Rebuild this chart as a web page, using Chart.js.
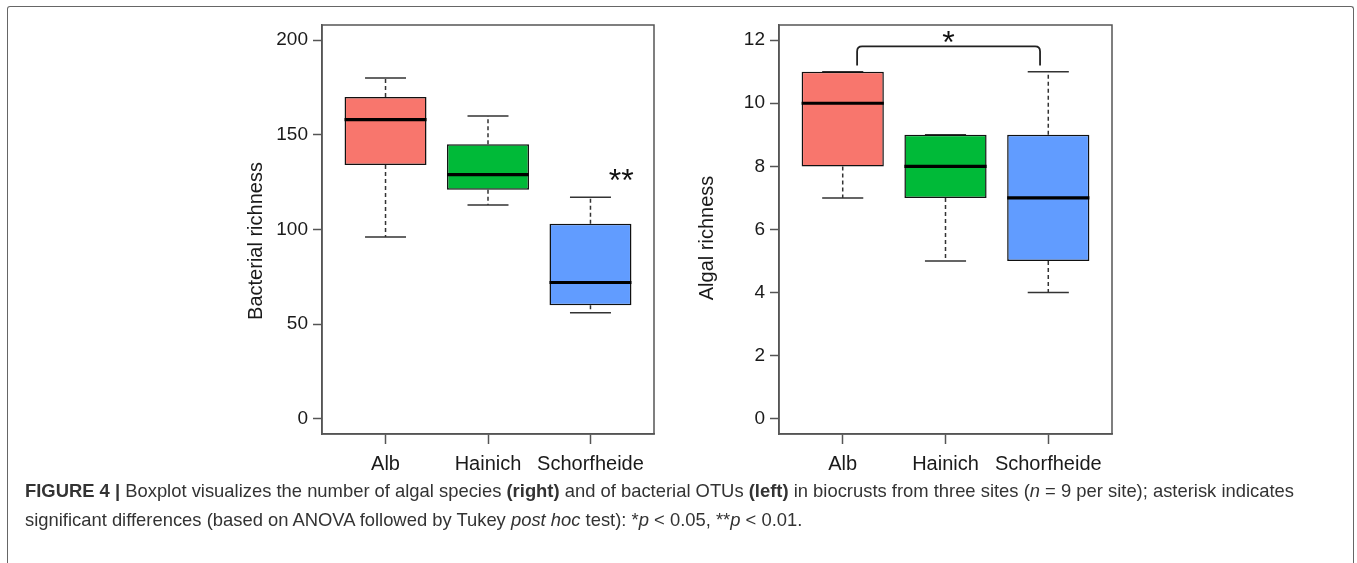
<!DOCTYPE html>
<html>
<head>
<meta charset="utf-8">
<title>Figure 4</title>
<script src="https://cdn.jsdelivr.net/npm/chart.js@4"></script>
<style>
  body { margin: 0; background: #fff; width: 1357px; height: 563px; overflow: hidden; position: relative; font-family: "Liberation Sans", Arial, sans-serif; }
  .frame { position: absolute; left: 7px; top: 5.5px; width: 1345px; height: 600px; border: 1.5px solid #666; border-bottom: none; border-radius: 3px 3px 0 0; }
  .panel { position: absolute; top: 15px; width: 440px; height: 470px; }
  #left { left: 230px; }
  #right { left: 690px; }
  .caption { position: absolute; left: 25px; top: 476px; font-size: 18.4px; line-height: 29px; color: #333; white-space: nowrap; }
</style>
</head>
<body>
<div class="frame"></div>
<div class="panel" id="left"><canvas id="bactChart" width="440" height="470"></canvas></div>
<div class="panel" id="right"><canvas id="algaChart" width="440" height="470"></canvas></div>
<div class="caption"><b>FIGURE 4 |</b> Boxplot visualizes the number of algal species <b>(right)</b> and of bacterial OTUs <b>(left)</b> in biocrusts from three sites (<i>n</i> = 9 per site); asterisk indicates<br>significant differences (based on ANOVA followed by Tukey <i>post hoc</i> test): *<i>p</i> &lt; 0.05, **<i>p</i> &lt; 0.01.</div>

<script>
// sites and box colours
const sites = ['Alb', 'Hainich', 'Schorfheide'];
const siteColors = ['#F8766D', '#00BA38', '#619CFF'];

// bacterial richness (left panel)
const bactLower = [96, 113, 56];
const bactQ1 = [134, 121, 60];
const bactMedian = [158, 129, 72];
const bactQ3 = [170, 145, 103];
const bactUpper = [180, 160, 117];
const bactTicks = [0, 50, 100, 150, 200];

// algal richness (right panel)
const algaLower = [7, 5, 4];
const algaQ1 = [8, 7, 5];
const algaMedian = [10, 8, 7];
const algaQ3 = [11, 9, 9];
const algaUpper = [11, 9, 11];
const algaTicks = [0, 2, 4, 6, 8, 10, 12];

const axisGray = '#555';
const textColor = '#1a1a1a';

// draws whiskers, medians, frame, axis title and significance marks
const boxExtras = {
  id: 'boxExtras',
  beforeDatasetsDraw(chart, args, o) {
    const {ctx, scales: {x, y}} = chart;
    ctx.save();
    ctx.strokeStyle = '#333';
    ctx.lineWidth = 1.5;
    for (let i = 0; i < o.lower.length; i++) {
      const cx = x.getPixelForValue(i + 1);
      const half = x.getPixelForValue(i + 1.2) - cx;
      ctx.setLineDash([4, 3]);
      ctx.beginPath();
      ctx.moveTo(cx, y.getPixelForValue(o.q3[i]));
      ctx.lineTo(cx, y.getPixelForValue(o.upper[i]));
      ctx.moveTo(cx, y.getPixelForValue(o.q1[i]));
      ctx.lineTo(cx, y.getPixelForValue(o.lower[i]));
      ctx.stroke();
      ctx.setLineDash([]);
      ctx.beginPath();
      ctx.moveTo(cx - half, y.getPixelForValue(o.upper[i]));
      ctx.lineTo(cx + half, y.getPixelForValue(o.upper[i]));
      ctx.moveTo(cx - half, y.getPixelForValue(o.lower[i]));
      ctx.lineTo(cx + half, y.getPixelForValue(o.lower[i]));
      ctx.stroke();
    }
    ctx.restore();
  },
  afterDatasetsDraw(chart, args, o) {
    const {ctx, scales: {x, y}, chartArea: a} = chart;
    ctx.save();
    ctx.strokeStyle = '#000';
    ctx.lineWidth = 3.2;
    for (let i = 0; i < o.median.length; i++) {
      const x0 = x.getPixelForValue(i + 0.6);
      const x1 = x.getPixelForValue(i + 1.4);
      const py = y.getPixelForValue(o.median[i]);
      ctx.beginPath();
      ctx.moveTo(x0, py);
      ctx.lineTo(x1, py);
      ctx.stroke();
    }
    // plot frame
    ctx.strokeStyle = axisGray;
    ctx.lineWidth = 1.5;
    ctx.strokeRect(a.left, a.top, a.right - a.left, a.bottom - a.top);

    // significance bracket
    if (o.bracket) {
      const b = o.bracket;
      const xl = x.getPixelForValue(b.from), xr = x.getPixelForValue(b.to);
      const yt = y.getPixelForValue(b.top), yb = y.getPixelForValue(b.bottom);
      const r = 5;
      ctx.strokeStyle = '#222';
      ctx.lineWidth = 1.8;
      ctx.beginPath();
      ctx.moveTo(xl, yb);
      ctx.lineTo(xl, yt + r);
      ctx.quadraticCurveTo(xl, yt, xl + r, yt);
      ctx.lineTo(xr - r, yt);
      ctx.quadraticCurveTo(xr, yt, xr, yt + r);
      ctx.lineTo(xr, yb);
      ctx.stroke();
    }
    // stars
    ctx.fillStyle = '#111';
    ctx.font = '32px "Liberation Sans", Arial, sans-serif';
    ctx.textAlign = 'center';
    ctx.textBaseline = 'alphabetic';
    const s = o.star;
    ctx.fillText(s.text, x.getPixelForValue(s.x), y.getPixelForValue(s.y) + 15);

    // y axis title
    ctx.fillStyle = textColor;
    ctx.font = '20px "Liberation Sans", Arial, sans-serif';
    ctx.textBaseline = 'middle';
    ctx.translate(o.titleX, o.titleY);
    ctx.rotate(-Math.PI / 2);
    ctx.fillText(o.title, 0, 0);
    ctx.restore();
  }
};

function noPadding(sc) {
  sc.paddingTop = 0;
  sc.paddingBottom = 0;
  sc.paddingLeft = 0;
  sc.paddingRight = 0;
}

function makeBoxChart(id, lower, q1, median, q3, upper, ticks, yMin, yMax, extras, yWidth, padRight) {
  const boxes = sites.map((s, i) => ({x: i + 1, y: [q1[i], q3[i]]}));
  return new Chart(document.getElementById(id), {
    type: 'bar',
    data: {
      datasets: [{
        data: boxes,
        backgroundColor: siteColors,
        borderColor: '#111',
        borderWidth: 1.5,
        borderSkipped: false,
        barPercentage: 1,
        categoryPercentage: 0.8
      }]
    },
    plugins: [boxExtras],
    options: {
      responsive: false,
      animation: false,
      events: [],
      layout: {padding: {left: 0, right: padRight, top: 10, bottom: 0}},
      plugins: {
        legend: {display: false},
        tooltip: {enabled: false},
        boxExtras: Object.assign({lower, q1, median, q3, upper}, extras)
      },
      scales: {
        x: {
          type: 'linear',
          min: 0.38,
          max: 3.62,
          offset: false,
          afterBuildTicks: sc => { sc.ticks = sites.map((s, i) => ({value: i + 1})); },
          afterFit: sc => { sc.height = 51; noPadding(sc); },
          ticks: {
            callback: v => sites[v - 1],
            color: textColor,
            padding: 8,
            maxRotation: 0,
            autoSkip: false,
            font: {family: '"Liberation Sans", Arial, sans-serif', size: 20}
          },
          grid: {offset: false, drawOnChartArea: false, tickLength: 10, tickColor: axisGray, tickWidth: 1.5},
          border: {color: axisGray, width: 1.5}
        },
        y: {
          min: yMin,
          max: yMax,
          afterBuildTicks: sc => { sc.ticks = ticks.map(v => ({value: v})); },
          afterFit: sc => { sc.width = yWidth; noPadding(sc); },
          ticks: {
            color: textColor,
            padding: 5,
            font: {family: '"Liberation Sans", Arial, sans-serif', size: 19}
          },
          grid: {drawOnChartArea: false, tickLength: 9, tickColor: axisGray, tickWidth: 1.5},
          border: {color: axisGray, width: 1.5}
        }
      }
    }
  });
}

makeBoxChart('bactChart', bactLower, bactQ1, bactMedian, bactQ3, bactUpper, bactTicks, -8, 208, {
  title: 'Bacterial richness',
  titleX: 26, titleY: 226,
  star: {text: '**', x: 3.3, y: 128.3}
}, 92, 16);

makeBoxChart('algaChart', algaLower, algaQ1, algaMedian, algaQ3, algaUpper, algaTicks, -0.48, 12.48, {
  title: 'Algal richness',
  titleX: 17, titleY: 223,
  star: {text: '*', x: 2.03, y: 12.07},
  bracket: {from: 1.14, to: 2.92, top: 11.8, bottom: 11.2}
}, 89, 18);
</script>
</body>
</html>
